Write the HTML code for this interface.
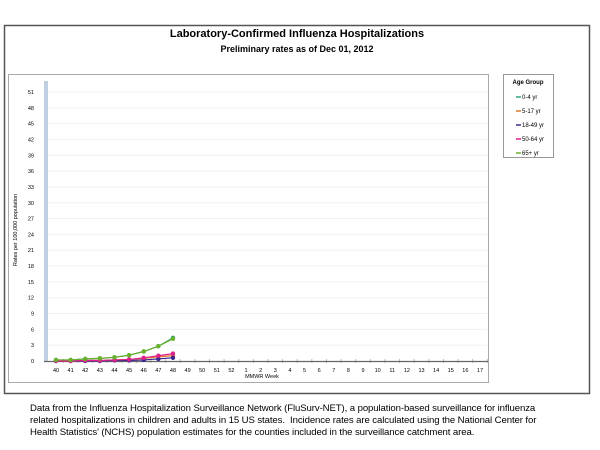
<!DOCTYPE html>
<html><head><style>
body{margin:0;width:600px;height:450px;background:#fff;font-family:"Liberation Sans",Arial,sans-serif;position:relative;overflow:hidden}
.t{position:absolute;left:30px;width:570px;text-align:left;font-size:9.6px;line-height:12px;color:#000;letter-spacing:-0.1px}
</style></head><body>
<svg width="600" height="450" style="position:absolute;left:0;top:0" font-family="Liberation Sans, Arial, sans-serif">
<rect x="4.5" y="25.5" width="585" height="368" fill="#fff" stroke="#555" stroke-width="1.5"/>
<text x="297" y="37" text-anchor="middle" font-size="11" font-weight="bold">Laboratory-Confirmed Influenza Hospitalizations</text>
<text x="297" y="52" text-anchor="middle" font-size="9" font-weight="bold">Preliminary rates as of Dec 01, 2012</text>
<rect x="8.5" y="74.5" width="480" height="308" fill="#fff" stroke="#aaa"/>
<rect x="503.5" y="74.5" width="50" height="83" fill="#fff" stroke="#999"/>
<text x="528" y="84" text-anchor="middle" font-size="6" font-weight="bold">Age Group</text>
<g font-size="6">
<line x1="516" y1="97" x2="521" y2="97" stroke="#2aa57a" stroke-width="1.5"/><text x="522" y="99">0-4 yr</text>
<line x1="516" y1="111" x2="521" y2="111" stroke="#e07a2a" stroke-width="1.5"/><text x="522" y="113">5-17 yr</text>
<line x1="516" y1="125" x2="521" y2="125" stroke="#3a2a90" stroke-width="1.5"/><text x="522" y="127">18-49 yr</text>
<line x1="516" y1="139" x2="521" y2="139" stroke="#e0208a" stroke-width="1.5"/><text x="522" y="141">50-64 yr</text>
<line x1="516" y1="153" x2="521" y2="153" stroke="#6ab02a" stroke-width="1.5"/><text x="522" y="155">65+ yr</text>
</g>
<rect x="44" y="81" width="4" height="280" fill="#c0d0e2"/>
<g id="grid" stroke="#eef0f6" stroke-width="1"></g>
<g id="yl" font-size="5.5" text-anchor="end"></g>
<g id="xl" font-size="5.5" text-anchor="middle"></g>
<line x1="44" y1="361.5" x2="488" y2="361.5" stroke="#666" stroke-width="1.2"/>
<text x="17" y="230" font-size="5.5" transform="rotate(-90 17 230)" text-anchor="middle">Rates per 100,000 population</text>
<text x="262" y="378" font-size="5.5" text-anchor="middle">MMWR Week</text>
<g id="series"></g>
</svg>
<div class="t" style="top:403px">Data from the Influenza Hospitalization Surveillance Network (FluSurv-NET), a population-based surveillance for influenza<br>related hospitalizations in children and adults in 15 US states.&nbsp; Incidence rates are calculated using the National Center for<br>Health Statistics' (NCHS) population estimates for the counties included in the surveillance catchment area.</div>
<script>
var ns="http://www.w3.org/2000/svg";
function el(p,t,a,txt){var e=document.createElementNS(ns,t);for(var k in a)e.setAttribute(k,a[k]);if(txt!=null)e.textContent=txt;document.getElementById(p).appendChild(e);}
function Y(v){return 361-v*(269/51);}
for(var v=0;v<=51;v+=3){var y=Y(v);if(v>0)el("grid","line",{x1:48,x2:487,y1:y,y2:y});el("yl","text",{x:34,y:y+2},v);}
var wk=[];for(var i=40;i<=52;i++)wk.push(i);for(i=1;i<=17;i++)wk.push(i);
function X(i){return 56+i*14.62;}
wk.forEach(function(w,i){el("xl","text",{x:X(i),y:372},w);el("xl","line",{x1:X(i)+7.3,x2:X(i)+7.3,y1:359,y2:363,stroke:"#bba"});});
var S=[["#e07a2a",[0,0,0.1,0.1,0.2,0.3,0.5,0.8,1.0]],["#3a2a90",[0,0,0,0,0.1,0.1,0.2,0.4,0.6]],["#e0208a",[0,0,0.1,0.1,0.2,0.3,0.6,1.0,1.4]],["#2aa57a",[0.2,0.2,0.4,0.5,0.7,1.1,1.8,2.8,4.4]],["#6ab02a",[0.2,0.2,0.4,0.5,0.7,1.1,1.8,2.8,4.2]]];
S.forEach(function(s){var p=s[1].map(function(v,i){return X(i)+","+Y(v)}).join(" ");el("series","polyline",{points:p,fill:"none",stroke:s[0],"stroke-width":1.2});s[1].forEach(function(v,i){el("series","circle",{cx:X(i),cy:Y(v),r:2.2,fill:s[0]});});});
</script>
</body></html>
